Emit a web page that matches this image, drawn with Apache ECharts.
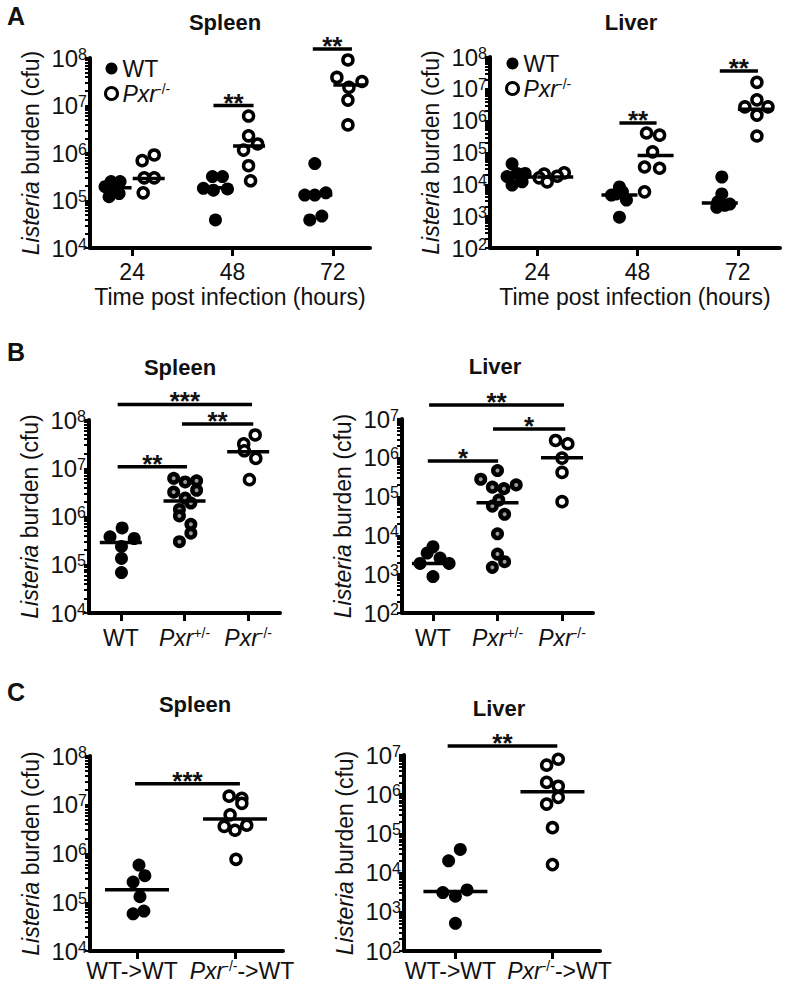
<!DOCTYPE html>
<html><head><meta charset="utf-8">
<script src="https://cdn.jsdelivr.net/npm/echarts@6/dist/echarts.min.js"></script>
<style>html,body{margin:0;padding:0;background:#fff}#c{width:787px;height:986px}</style>
</head><body><div id="c"></div>
<script>
// ---------- categories ----------
const hoursA = ['24', '48', '72'];
const genoB = ['WT', 'Pxr+/-', 'Pxr-/-'];
const chimC = ['WT->WT', 'Pxr-/-->WT'];

// ---------- Panel A, spleen (cfu), one inner list per time point ----------
const aSpleenWT = [[2.5e5, 2.5e5, 1.95e5, 1.75e5, 1.4e5, 1.2e5], [3.2e5, 3.2e5, 1.8e5, 1.65e5, 1.75e5, 3.9e4], [6.0e5, 1.3e5, 1.3e5, 1.45e5, 3.9e4, 4.7e4]];
const aSpleenPxr = [[9.1e5, 6.9e5, 3.0e5, 3.0e5, 1.45e5], [6.0e6, 2.3e6, 1.55e6, 1.15e6, 5.4e5, 2.6e5], [9.1e7, 3.9e7, 3.2e7, 2.4e7, 1.3e7, 3.9e6]];
const aSpleenWTMed = [1.85e5, 1.85e5, 1.3e5];
const aSpleenPxrMed = [2.9e5, 1.4e6, 2.7e7];
const aSpleenSigY = [1.0e7, 1.55e8];
const aSpleenSigText = ['**', '**'];
// ---------- Panel A, liver ----------
const aLiverWT = [[4.4e4, 2.2e4, 2.2e4, 1.75e4, 1.2e4, 9.5e3], [8.3e3, 4.6e3, 5.8e3, 3.2e3, 9.3e2, 5.0e3], [1.7e4, 5.0e3, 2.8e3, 2.4e3, 1.9e3, 2.2e3]];
const aLiverPxr = [[2.3e4, 2.1e4, 1.8e4, 1.6e4, 1.2e4], [4.1e5, 3.5e5, 1.05e5, 3.5e4, 3.2e4, 5.8e3], [1.6e7, 4.5e6, 2.7e6, 2.7e6, 1.5e6, 3.3e5]];
const aLiverWTMed = [1.7e4, 4.6e3, 2.6e3];
const aLiverPxrMed = [1.7e4, 8.0e4, 2.3e6];
const aLiverSigY = [8.5e5, 3.6e7];
const aLiverSigText = ['**', '**'];
// ---------- Panel B, spleen ----------
const bSpleenWT = [5.8e5, 3.8e5, 3.5e5, 2.4e5, 1.35e5, 6.9e4];
const bSpleenHet = [6.2e6, 5.2e6, 5.5e6, 3.5e6, 3.2e6, 2.4e6, 1.9e6, 1.4e6, 1.03e6, 6.9e5, 4.5e5, 3.0e5];
const bSpleenKO = [4.9e7, 3.2e7, 2.3e7, 1.6e7, 5.8e6];
const bSpleenMed = [2.9e5, 2.1e6, 2.2e7];
const bSpleenSigY = [1.07e7, 8.3e7, 2.1e8];
const bSpleenSigText = ['**', '**', '***'];
// ---------- Panel B, liver ----------
const bLiverWT = [5.1e3, 3.5e3, 2.6e3, 1.9e3, 1.9e3, 8.7e2];
const bLiverHet = [4.7e5, 2.8e5, 1.75e5, 1.6e5, 2.0e5, 8.1e4, 5.7e4, 3.5e4, 1.1e4, 3.3e3, 2.1e3, 1.5e3];
const bLiverKO = [2.8e6, 2.3e6, 9.8e5, 4.2e5, 7.4e4];
const bLiverMed = [1.9e3, 6.9e4, 1.0e6];
const bLiverSigY = [8.3e5, 5.5e6, 2.3e7];
const bLiverSigText = ['*', '*', '**'];
// ---------- Panel C, spleen ----------
const cSpleenWT = [5.8e5, 3.5e5, 2.6e5, 1.3e5, 5.8e4, 6.6e4];
const cSpleenKO = [1.5e7, 1.35e7, 1.07e7, 6.2e6, 3.6e6, 3.0e6, 3.8e6, 7.6e5];
const cSpleenMed = [1.8e5, 5.1e6];
const cSpleenSigY = [2.7e7];
const cSpleenSigText = ['***'];
// ---------- Panel C, liver ----------
const cLiverWT = [3.9e4, 2.0e4, 3.1e3, 2.5e3, 3.6e3, 5.1e2];
const cLiverKO = [7.8e6, 5.5e6, 2.0e6, 1.6e6, 8.3e5, 5.6e5, 1.4e5, 1.6e4];
const cLiverMed = [3.3e3, 1.15e6];
const cLiverSigY = [1.7e7];
const cLiverSigText = ['**'];

// ---------- horizontal scatter placement (axis units) ----------
const aSpleenWTJit = [[-0.21, -0.12, -0.27, -0.18, -0.13, -0.23], [-0.20, -0.10, -0.29, -0.19, -0.05, -0.17], [-0.18, -0.28, -0.18, -0.07, -0.23, -0.11]];
const aSpleenPxrJit = [[0.22, 0.10, 0.12, 0.22, 0.11], [0.16, 0.16, 0.25, 0.11, 0.16, 0.18], [0.15, 0.04, 0.29, 0.16, 0.15, 0.15]];
const aLiverWTJit = [[-0.25, -0.20, -0.12, -0.30, -0.15, -0.25], [-0.18, -0.26, -0.15, -0.11, -0.18, -0.21], [-0.16, -0.16, -0.20, -0.08, -0.21, -0.13]];
const aLiverPxrJit = [[0.27, 0.07, 0.20, 0.02, 0.10], [0.09, 0.22, 0.15, 0.07, 0.22, 0.07], [0.19, 0.19, 0.07, 0.30, 0.19, 0.19]];
const bSpleenWTJit = [0.02, -0.17, 0.21, 0.01, 0.01, 0.01];
const bSpleenHetJit = [-0.17, 0.01, 0.19, 0.19, -0.17, 0.01, 0.10, -0.08, -0.08, 0.10, 0.10, -0.08];
const bSpleenKOJit = [0.11, -0.07, -0.06, 0.12, 0.02];
const bLiverWTJit = [0, -0.09, 0.11, -0.20, 0.25, 0];
const bLiverHetJit = [0, -0.26, -0.08, 0.10, 0.29, 0.02, -0.08, 0.11, 0, 0, 0.11, -0.08];
const bLiverKOJit = [-0.10, 0.09, 0, 0, 0];
const cSpleenWTJit = [0.02, 0.08, -0.04, 0.03, -0.04, 0.07];
const cSpleenKOJit = [-0.06, 0.07, 0.07, -0.05, -0.11, 0, 0.12, 0.01];
const cLiverWTJit = [0.05, -0.07, -0.13, 0, 0.12, 0];
const cLiverKOJit = [0.06, -0.06, -0.06, 0.06, 0.06, -0.06, 0, 0];
// significance bar spans [from, to] in axis units
const aSpleenSigX = [[0.81, 1.21], [1.80, 2.19]];
const aLiverSigX = [[0.82, 1.19], [1.82, 2.20]];
const bSpleenSigX = [[-0.05, 1.04], [0.96, 2.08], [-0.05, 2.06]];
const bLiverSigX = [[-0.08, 1.01], [0.93, 2.05], [-0.06, 2.03]];
const cSpleenSigX = [[-0.02, 1.05]];
const cLiverSigX = [[-0.08, 1.05]];

// ---------- styling / layout ----------
const FF = 'Liberation Sans, Arial, Helvetica, sans-serif';
const INK = '#111';
const STY = {
  filled: { symbolSize: 13, itemStyle: { color: '#000', opacity: 1 } },
  open: { symbolSize: 10, itemStyle: { color: '#fff', borderColor: '#000', borderWidth: 3.5, opacity: 1 } },
  gray: { symbolSize: 8.5, itemStyle: { color: '#9a9a9a', borderColor: '#000', borderWidth: 4.5, opacity: 1 } }
};
const RICH = {
  i: { fontStyle: 'italic', fontSize: 23, fontFamily: FF, color: INK },
  s: { fontSize: 14, fontFamily: FF, color: INK, verticalAlign: 'top' },
  b: { fontSize: 24, fontFamily: FF, color: INK },
  e: { fontSize: 16, fontFamily: FF, color: INK, verticalAlign: 'top' },
  w: { fontSize: 23, fontFamily: FF, color: INK, padding: [0, 10, 0, 0] },
  p: { width: 14 }
};

const panels = [
  { grid: { left: 90, top: 58, width: 280, height: 190 }, xr: [-0.42, 2.37], yr: [1e4, 1e8], cats: hoursA,
    xName: 'Time post infection (hours)', labMargin: 12, hw: 16,
    sets: [
      { name: 'WT', kind: 'filled', vals: aSpleenWT, jit: aSpleenWTJit, med: aSpleenWTMed, side: -0.165, groups: [0, 1, 2] },
      { name: 'Pxr-/-', kind: 'open', vals: aSpleenPxr, jit: aSpleenPxrJit, med: aSpleenPxrMed, side: 0.165, groups: [0, 1, 2] }],
    sigX: aSpleenSigX, sigY: aSpleenSigY, sigT: aSpleenSigText },
  { grid: { left: 490, top: 57, width: 290, height: 191 }, xr: [-0.47, 2.42], yr: [1e2, 1e8], cats: hoursA,
    xName: 'Time post infection (hours)', labMargin: 12, hw: 18,
    sets: [
      { name: 'WT', kind: 'filled', vals: aLiverWT, jit: aLiverWTJit, med: aLiverWTMed, side: -0.18, groups: [0, 1, 2] },
      { name: 'Pxr-/-', kind: 'open', vals: aLiverPxr, jit: aLiverPxrJit, med: aLiverPxrMed, side: 0.18, groups: [0, 1, 2] }],
    sigX: aLiverSigX, sigY: aLiverSigY, sigT: aLiverSigText },
  { grid: { left: 89, top: 420, width: 191, height: 193 }, xr: [-0.5, 2.5], yr: [1e4, 1e8], cats: genoB,
    labMargin: 13, hw: 21,
    sets: [
      { name: 'bWT', kind: 'filled', vals: [bSpleenWT], jit: [bSpleenWTJit], med: [bSpleenMed[0]], side: 0, groups: [0] },
      { name: 'bHet', kind: 'gray', vals: [bSpleenHet], jit: [bSpleenHetJit], med: [bSpleenMed[1]], side: 0, groups: [1] },
      { name: 'bKO', kind: 'open', vals: [bSpleenKO], jit: [bSpleenKOJit], med: [bSpleenMed[2]], side: 0, groups: [2] }],
    sigX: bSpleenSigX, sigY: bSpleenSigY, sigT: bSpleenSigText },
  { grid: { left: 402, top: 419, width: 191, height: 194 }, xr: [-0.48, 2.48], yr: [1e2, 1e7], cats: genoB,
    labMargin: 13, hw: 21,
    sets: [
      { name: 'bWT', kind: 'filled', vals: [bLiverWT], jit: [bLiverWTJit], med: [bLiverMed[0]], side: 0, groups: [0] },
      { name: 'bHet', kind: 'gray', vals: [bLiverHet], jit: [bLiverHetJit], med: [bLiverMed[1]], side: 0, groups: [1] },
      { name: 'bKO', kind: 'open', vals: [bLiverKO], jit: [bLiverKOJit], med: [bLiverMed[2]], side: 0, groups: [2] }],
    sigX: bLiverSigX, sigY: bLiverSigY, sigT: bLiverSigText },
  { grid: { left: 90, top: 756, width: 193, height: 195 }, xr: [-0.48, 1.49], yr: [1e4, 1e8], cats: chimC,
    labMargin: 8, hw: 32, splitLabels: true,
    sets: [
      { name: 'cWT', kind: 'filled', vals: [cSpleenWT], jit: [cSpleenWTJit], med: [cSpleenMed[0]], side: 0, groups: [0] },
      { name: 'cKO', kind: 'open', vals: [cSpleenKO], jit: [cSpleenKOJit], med: [cSpleenMed[1]], side: 0, groups: [1] }],
    sigX: cSpleenSigX, sigY: cSpleenSigY, sigT: cSpleenSigText },
  { grid: { left: 404, top: 755, width: 196, height: 196 }, xr: [-0.53, 1.49], yr: [1e2, 1e7], cats: chimC,
    labMargin: 8, hw: 32, splitLabels: true,
    sets: [
      { name: 'cWT', kind: 'filled', vals: [cLiverWT], jit: [cLiverWTJit], med: [cLiverMed[0]], side: 0, groups: [0] },
      { name: 'cKO', kind: 'open', vals: [cLiverKO], jit: [cLiverKOJit], med: [cLiverMed[1]], side: 0, groups: [1] }],
    sigX: cLiverSigX, sigY: cLiverSigY, sigT: cLiverSigText }
];

function fmtCat(c, split) {
  const m = /^Pxr([+-]\/-)(.*)$/.exec(c);
  if (m) return (split ? '{p|}' : '') + '{i|Pxr}{s|' + m[1] + '}' + m[2];
  return split ? '{w|' + c + '}' : c;
}
function decades(lo, hi) {
  const out = [];
  for (let e = Math.round(Math.log10(lo)); e <= Math.round(Math.log10(hi)); e++) out.push(Math.pow(10, e));
  return out;
}
function logTicks(lo, hi) {
  const out = [];
  for (let e = Math.round(Math.log10(lo)); e < Math.round(Math.log10(hi)); e++)
    for (let k = 1; k < 10; k++) out.push(k * Math.pow(10, e));
  out.push(hi);
  return out;
}

const option = {
  animation: false,
  textStyle: { fontFamily: FF, color: INK },
  grid: [], xAxis: [], yAxis: [], series: [],
  legend: [], graphic: []
};

panels.forEach((p, pi) => {
  option.grid.push(Object.assign({ containLabel: false, outerBoundsMode: 'none' }, p.grid));
  const catIdx = p.cats.map((c, i) => i);
  // with split labels every category label lives on its own (line-less) x axis so none is dropped
  const labelSets = p.splitLabels ? catIdx.map(i => [i]) : [catIdx];
  const xIndex = option.xAxis.length;
  labelSets.forEach((vals, li) => {
    const main = li === 0;
    option.xAxis.push({
      type: 'value', gridIndex: pi, min: p.xr[0], max: p.xr[1], position: 'bottom', offset: 0,
      splitLine: { show: false },
      axisLine: { show: main, onZero: false, lineStyle: { color: '#000', width: 4 } },
      axisTick: { show: main, customValues: catIdx, length: 8, lineStyle: { color: '#000', width: 3 } },
      axisLabel: { show: true, customValues: vals, margin: p.labMargin, fontSize: 23, color: INK, fontFamily: FF,
        showMinLabel: true, showMaxLabel: true, hideOverlap: false,
        formatter: v => fmtCat(p.cats[Math.round(v)], !!p.splitLabels), rich: RICH },
      name: main ? (p.xName || '') : '', nameLocation: 'middle', nameGap: 37,
      nameTextStyle: { fontSize: 23, color: INK, fontFamily: FF }
    });
  });
  option.yAxis.push({
    type: 'log', logBase: 10, gridIndex: pi, min: p.yr[0], max: p.yr[1],
    splitLine: { show: false },
    axisLine: { show: true, onZero: false, lineStyle: { color: '#000', width: 4 } },
    axisTick: { show: true, customValues: logTicks(p.yr[0], p.yr[1]), length: 5, lineStyle: { color: '#000', width: 2 } },
    axisLabel: { show: true, customValues: decades(p.yr[0], p.yr[1]), margin: 3, fontSize: 24, color: INK,
      showMinLabel: true, showMaxLabel: true, hideOverlap: false,
      formatter: v => '{b|10}{e|' + Math.round(Math.log10(v)) + '}', rich: RICH },
    name: '{i|Listeria} burden (cfu)', nameLocation: 'middle', nameGap: 48, nameRotate: 90,
    nameTextStyle: { fontSize: 23, color: INK, fontFamily: FF, rich: RICH }
  });
  const meds = [];
  p.sets.forEach(s => {
    const data = [];
    s.vals.forEach((arr, k) => arr.forEach((v, i) => data.push([s.groups[k] + s.jit[k][i], v])));
    const st = STY[s.kind];
    option.series.push({
      type: 'scatter', name: s.name, xAxisIndex: xIndex, yAxisIndex: pi, data: data,
      symbol: 'circle', symbolSize: st.symbolSize, itemStyle: st.itemStyle, z: 2, silent: true
    });
    s.med.forEach((m, k) => meds.push([s.groups[k] + s.side, m]));
  });
  const hw = p.hw;
  option.series.push({
    type: 'custom', xAxisIndex: xIndex, yAxisIndex: pi, data: meds, z: 4, silent: true, clip: false,
    encode: { x: 0, y: 1 },
    renderItem: (params, api) => {
      const c = api.coord([api.value(0), api.value(1)]);
      return { type: 'line', shape: { x1: c[0] - hw, y1: c[1], x2: c[0] + hw, y2: c[1] },
        style: { stroke: '#000', lineWidth: 3.5 } };
    }
  });
  const sigData = p.sigX.map((sx, k) => [sx[0], sx[1], p.sigY[k]]);
  const sigT = p.sigT;
  option.series.push({
    type: 'custom', xAxisIndex: xIndex, yAxisIndex: pi, data: sigData, z: 4, silent: true, clip: false,
    encode: { x: [0, 1], y: 2 },
    renderItem: (params, api) => {
      const a = api.coord([api.value(0), api.value(2)]);
      const b = api.coord([api.value(1), api.value(2)]);
      return { type: 'group', children: [
        { type: 'line', shape: { x1: a[0], y1: a[1], x2: b[0], y2: b[1] }, style: { stroke: '#000', lineWidth: 3.5 } },
        { type: 'text', x: (a[0] + b[0]) / 2, y: a[1] - 3,
          style: { text: sigT[params.dataIndex], fontSize: 26, fontWeight: 'bold', fontFamily: FF, fill: INK, align: 'center', verticalAlign: 'middle' } }
      ] };
    }
  });
});

const legendBase = {
  orient: 'vertical', itemWidth: 12, itemHeight: 12, itemGap: 2, selectedMode: false, padding: 0,
  data: [
    { name: 'WT', icon: 'circle', itemStyle: { color: '#000', borderWidth: 0, opacity: 1 } },
    { name: 'Pxr-/-', icon: 'circle', itemStyle: { color: '#fff', borderColor: '#000', borderWidth: 3, opacity: 1 } }],
  formatter: n => n === 'WT' ? 'WT' : '{i|Pxr}{s|-/-}',
  textStyle: { fontSize: 23, color: INK, fontFamily: FF, rich: RICH }
};
option.legend.push(Object.assign({}, legendBase, { left: 104, top: 57 }));
option.legend.push(Object.assign({}, legendBase, { left: 505, top: 52 }));

const heads = [
  { t: 'A', x: 7, y: 16, big: true }, { t: 'B', x: 7, y: 352, big: true }, { t: 'C', x: 7, y: 692, big: true },
  { t: 'Spleen', x: 225, y: 22 }, { t: 'Liver', x: 631, y: 22 },
  { t: 'Spleen', x: 180, y: 367 }, { t: 'Liver', x: 495, y: 366 },
  { t: 'Spleen', x: 195, y: 704 }, { t: 'Liver', x: 499, y: 708 }
];
heads.forEach(h => option.graphic.push({
  type: 'text', x: h.x, y: h.y, silent: true,
  style: { text: h.t, fontSize: h.big ? 25 : 22, fontWeight: 'bold', fontFamily: FF, fill: INK,
    align: h.big ? 'left' : 'center', verticalAlign: 'middle' }
}));

const chart = echarts.init(document.getElementById('c'), null, { renderer: 'svg' });
chart.setOption(option);
</script>
</body></html>
